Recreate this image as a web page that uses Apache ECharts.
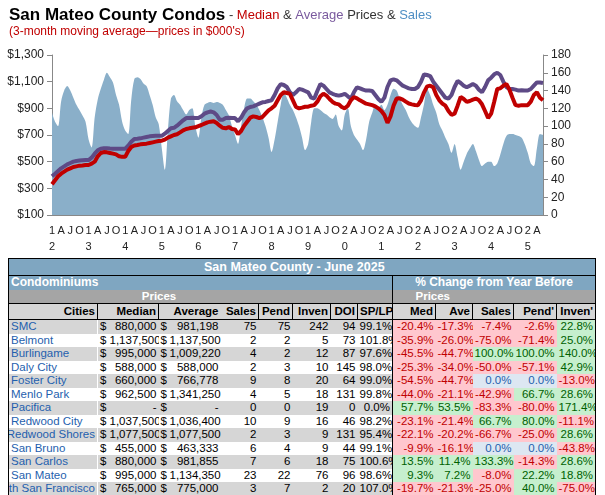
<!DOCTYPE html>
<html><head><meta charset="utf-8">
<script src="https://cdn.jsdelivr.net/npm/echarts@6/dist/echarts.min.js"></script>
<style>
body{margin:0;width:605px;height:495px;overflow:hidden;background:#fff;font-family:"Liberation Sans",Arial,sans-serif;position:relative}
#c{position:absolute;left:0;top:0;width:605px;height:255px}
#t{position:absolute;left:8px;top:258px;width:587px;border-collapse:collapse;table-layout:fixed;font-size:11.5px;border:1.5px solid #000}
#t td{padding:0 2px;height:13.5px;line-height:13px;white-space:nowrap;overflow:hidden;text-align:right}
.hb{background:#7fa6c1;color:#fff;font-weight:bold}
.hg{background:#a5a5a5;color:#fff;font-weight:bold}
.ch td{background:#d6d6d6;font-weight:bold;font-size:11.5px;border-top:1px solid #000;border-bottom:1px solid #000;height:15px!important}
.city{color:#1f5fae;direction:rtl}
.r{background:#ffc7ce;color:#c00000}.g{background:#c6efce;color:#006100}.n{background:#dde7f2;color:#1f5fae}
</style></head><body>
<div id="c"></div>
<table id="t"></table>
<script>
const median=[330,360,390,410,425,440,450,460,465,470,472,475,
475,485,500,540,565,572,570,565,560,555,540,536,
536,580,610,621,625,630,633,635,640,645,650,655,
657,665,680,690,700,706,720,735,745,750,754,758,
767,775,785,795,800,803,790,770,754,750,760,745,
742,706,730,770,800,830,840,835,827,835,860,885,
900,920,960,1000,1021,1015,1009,960,910,900,905,912,
912,920,924,950,990,1009,995,970,948,935,930,910,
900,920,960,985,975,960,948,935,930,924,915,900,
880,850,791,840,920,973,975,965,950,936,930,925,
924,960,1020,1065,1070,1058,1000,960,936,920,880,851,
860,920,985,970,948,955,965,973,960,930,880,827,
860,950,1045,1050,1070,1082,1040,980,924,920,924,924,
924,950,1000,1021,980,960];
const average=[391,410,430,450,465,480,490,500,505,508,510,512,
512,530,560,585,597,600,600,598,597,597,597,597,
597,620,650,670,672,675,680,685,690,692,694,694,
694,710,730,750,754,770,790,810,827,827,830,827,
827,840,860,870,876,870,850,815,815,827,830,827,
827,803,830,870,900,910,915,925,935,945,948,955,
960,1000,1050,1082,1075,1060,1021,1000,1020,1045,1040,1030,
1020,980,973,1030,1082,1070,1045,1020,1009,1000,995,1000,
1009,990,973,1020,1058,1050,1040,1033,1033,1030,1000,970,
948,980,1060,1110,1118,1110,1090,1070,1060,1050,1045,1045,
1060,1100,1155,1150,1142,1100,1070,1040,1010,980,973,1000,
1060,1106,1090,1070,1058,1070,1082,1070,1040,1021,1060,1110,
1130,1155,1167,1150,1100,1060,1045,1045,1040,1033,1035,1033,
1033,1045,1070,1094,1094,1090];
const sales=[115,105,100,128,140,145,140,132,124,118,112,105,
85,76,110,130,142,152,160,155,149,135,124,105,
95,91,130,153,155,153,148,145,135,124,110,102,
75,51,95,131,135,128,124,118,113,118,120,100,
87,110,124,126,127,126,127,126,124,118,112,100,
90,80,100,120,131,131,128,124,118,110,100,87,
71,85,105,124,138,132,124,118,110,100,87,73,
80,105,120,120,118,115,113,110,108,113,100,95,
113,120,100,90,85,80,73,85,105,115,124,120,
124,118,124,135,142,140,131,124,118,110,104,100,
98,110,125,142,135,124,115,102,95,87,80,70,
80,65,51,60,69,75,80,72,62,55,58,60,
60,55,58,68,80,89,91,91,90,89,87,80,
70,58,55,75,91,90];
const months=[];
for(let y=2012;y<=2025;y++)for(let m=0;m<12;m++){if(months.length<median.length)months.push(y+'-'+(m+1));}
const monthLetters=['1','','','A','','','J','','','O','',''];

const chart=echarts.init(document.getElementById('c'));
const F='Liberation Sans';
chart.setOption({
 animation:false,
 title:{left:4,top:2,text:'{a|San Mateo County Condos}{b| - }{r|Median}{b| & }{p|Average}{b| Prices & }{s|Sales}\n{r2|(3-month moving average—prices in $000\'s)}',
  textStyle:{fontWeight:'normal',rich:{a:{fontSize:17,fontWeight:'bold',color:'#000',fontFamily:F},
   b:{fontSize:13,fontWeight:'normal',color:'#333',fontFamily:F},r:{fontSize:13,fontWeight:'normal',color:'#c00000',fontFamily:F},
   p:{fontSize:13,fontWeight:'normal',color:'#7a5a9e',fontFamily:F},s:{fontSize:13,fontWeight:'normal',color:'#4f8fc4',fontFamily:F},
   r2:{fontSize:12,fontWeight:'normal',color:'#c00000',fontFamily:F,padding:[2,0,0,0]}}}},
 grid:{left:52,right:62,top:55,height:164},
 xAxis:{type:'category',data:months,boundaryGap:false,
  axisLine:{lineStyle:{color:'#888'}},axisTick:{show:false},
  axisLabel:{interval:0,color:'#222',fontSize:11,fontFamily:F,lineHeight:16,
   formatter:(v)=>{const [y,m]=v.split('-').map(Number);const i=m-1;
     if(i===0){const s=String(y%100).padStart(2,'0');return s[0]+'\n'+s[1];}
     return monthLetters[i];}}},
 yAxis:[{type:'value',min:100,max:1300,interval:200,splitLine:{show:false},
   axisLine:{show:true,lineStyle:{color:'#888'}},axisTick:{show:true},
   axisLabel:{color:'#222',fontSize:12,fontFamily:F,formatter:v=>'$'+v.toLocaleString('en-US')}},
  {type:'value',min:0,max:180,interval:20,splitLine:{show:false},
   axisLine:{show:true,lineStyle:{color:'#888'}},axisTick:{show:true},
   axisLabel:{color:'#222',fontSize:12,fontFamily:F}}],
 series:[
  {name:'Sales',type:'line',yAxisIndex:1,data:sales,symbol:'none',smooth:0.3,lineStyle:{width:0},areaStyle:{color:'#8aafc9',opacity:1},z:1},
  {name:'Average',type:'line',data:average,symbol:'none',lineStyle:{color:'#5e4a86',width:4},z:3},
  {name:'Median',type:'line',data:median,symbol:'none',lineStyle:{color:'#c00000',width:4},z:4}
 ]});

const cities=['SMC','Belmont','Burlingame','Daly City','Foster City','Menlo Park','Pacifica','Redwood City','Redwood Shores','San Bruno','San Carlos','San Mateo','South San Francisco'];
const medPrice=['880,000','1,137,500','995,000','588,000','660,000','962,500','-','1,037,500','1,077,500','455,000','880,000','995,000','765,000'];
const avgPrice=['981,198','1,137,500','1,009,220','588,000','766,778','1,341,250','-','1,036,400','1,077,500','463,333','981,855','1,134,350','775,000'];
const salesN=[75,2,4,2,9,4,0,10,2,6,7,23,3];
const pendN=[75,2,2,3,8,5,0,9,3,4,6,22,7];
const invenN=[242,5,12,10,20,18,19,16,9,9,18,76,2];
const doiN=[94,73,87,145,64,131,0,46,131,44,75,96,20];
const splp=['99.1%','101.8%','97.6%','98.0%','99.0%','99.8%','0.0%','98.2%','95.4%','99.1%','100.6%','98.6%','107.0%'];
const chMed=[-20.4,-35.9,-45.5,-25.3,-54.5,-44.0,57.7,-23.1,-22.1,-9.9,13.5,9.3,-19.7];
const chAve=[-17.3,-26.0,-44.7,-34.0,-44.7,-21.1,53.5,-21.4,-20.2,-16.1,11.4,7.2,-21.3];
const chSales=[-7.4,-75.0,100.0,-50.0,0.0,-42.9,-83.3,66.7,-66.7,0.0,133.3,-8.0,-25.0];
const chPend=[-2.6,-71.4,100.0,-57.1,0.0,66.7,-80.0,80.0,-25.0,0.0,-14.3,22.2,40.0];
const chInven=[22.8,25.0,140.0,42.9,-13.0,28.6,171.4,-11.1,28.6,-43.8,28.6,18.8,-75.0];

const widths=[89,10,51,9,53,38,34,38,27,35,43,37,41,43,39];
let h='<colgroup>'+widths.map(w=>'<col style="width:'+w+'px">').join('')+'</colgroup>';
h+='<tr class="hb"><td colspan="15" style="text-align:left;padding-left:195px;font-size:12.5px;height:16px;border-bottom:1px solid #000">San Mateo County - June 2025</td></tr>';
h+='<tr class="hb"><td colspan="10" style="text-align:left;font-size:12px">Condominiums</td><td colspan="5" style="text-align:center;font-size:12px;border-left:1px solid #000">% Change from Year Before</td></tr>';
h+='<tr class="hg"><td></td><td colspan="4" style="text-align:center">Prices</td><td colspan="5"></td><td colspan="2" style="text-align:center;border-left:1px solid #000">Prices</td><td colspan="3"></td></tr>';
const bl='border-left:1px solid #000;';
h+='<tr class="ch"><td>Cities</td><td colspan="2" style="'+bl+'">Median</td><td colspan="2" style="'+bl+'">Average</td><td>Sales</td><td style="'+bl+'">Pend</td><td style="'+bl+'">Inven</td><td style="'+bl+'">DOI</td><td style="'+bl+'">SP/LP</td><td style="'+bl+'">Med</td><td style="'+bl+'">Ave</td><td style="'+bl+'">Sales</td><td style="'+bl+'">Pend\'</td><td style="'+bl+'">Inven\'</td></tr>';
const pc=v=>{const c=v>0?'g':(v<0?'r':'n');return '<td class="'+c+'">'+v.toFixed(1)+'%</td>';};
cities.forEach((c,i)=>{
 const bg=i%2===0?'#d6d6d6':'#fff';
 h+='<tr style="background:'+bg+'"><td class="city" style="border-right:1px solid #fff;text-align:left">'+c+'</td><td style="text-align:left">$</td><td>'+medPrice[i]+'</td><td style="text-align:left">$</td><td>'+avgPrice[i]+'</td><td>'+salesN[i]+'</td><td>'+pendN[i]+'</td><td>'+invenN[i]+'</td><td>'+doiN[i]+'</td><td>'+splp[i]+'</td>'+
  pc(chMed[i]).replace('<td','<td style="border-left:1px solid #000"')+pc(chAve[i])+pc(chSales[i])+pc(chPend[i])+pc(chInven[i])+'</tr>';
});
document.getElementById('t').innerHTML=h;
</script>
</body></html>
